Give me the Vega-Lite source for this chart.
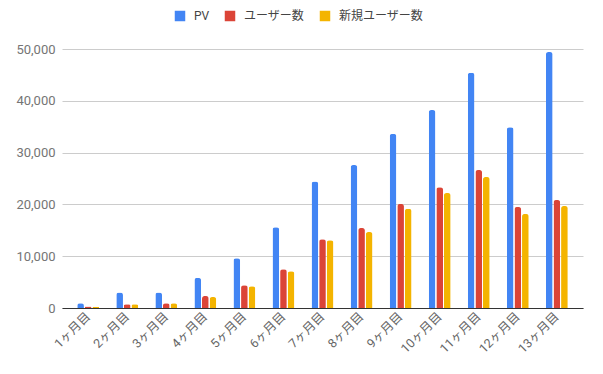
{
  "$schema": "https://vega.github.io/schema/vega-lite/v6.json",
  "width": 521,
  "height": 259,
  "autosize": {"type": "none"},
  "padding": {"left": 62, "top": 49, "right": 20, "bottom": 66},
  "background": "white",
  "config": {
    "font": "Roboto, 'Noto Sans CJK JP', sans-serif",
    "view": {"stroke": null}
  },
  "data": {
    "values": [
      {"month": "1ヶ月目", "series": "PV", "value": 900},
      {"month": "1ヶ月目", "series": "ユーザー数", "value": 300},
      {"month": "1ヶ月目", "series": "新規ユーザー数", "value": 250},
      {"month": "2ヶ月目", "series": "PV", "value": 3000},
      {"month": "2ヶ月目", "series": "ユーザー数", "value": 700},
      {"month": "2ヶ月目", "series": "新規ユーザー数", "value": 700},
      {"month": "3ヶ月目", "series": "PV", "value": 3000},
      {"month": "3ヶ月目", "series": "ユーザー数", "value": 900},
      {"month": "3ヶ月目", "series": "新規ユーザー数", "value": 900},
      {"month": "4ヶ月目", "series": "PV", "value": 5800},
      {"month": "4ヶ月目", "series": "ユーザー数", "value": 2300},
      {"month": "4ヶ月目", "series": "新規ユーザー数", "value": 2100},
      {"month": "5ヶ月目", "series": "PV", "value": 9600},
      {"month": "5ヶ月目", "series": "ユーザー数", "value": 4400},
      {"month": "5ヶ月目", "series": "新規ユーザー数", "value": 4200},
      {"month": "6ヶ月目", "series": "PV", "value": 15600},
      {"month": "6ヶ月目", "series": "ユーザー数", "value": 7500},
      {"month": "6ヶ月目", "series": "新規ユーザー数", "value": 7100},
      {"month": "7ヶ月目", "series": "PV", "value": 24400},
      {"month": "7ヶ月目", "series": "ユーザー数", "value": 13260},
      {"month": "7ヶ月目", "series": "新規ユーザー数", "value": 13070},
      {"month": "8ヶ月目", "series": "PV", "value": 27600},
      {"month": "8ヶ月目", "series": "ユーザー数", "value": 15440},
      {"month": "8ヶ月目", "series": "新規ユーザー数", "value": 14670},
      {"month": "9ヶ月目", "series": "PV", "value": 33600},
      {"month": "9ヶ月目", "series": "ユーザー数", "value": 20080},
      {"month": "9ヶ月目", "series": "新規ユーザー数", "value": 19170},
      {"month": "10ヶ月目", "series": "PV", "value": 38220},
      {"month": "10ヶ月目", "series": "ユーザー数", "value": 23300},
      {"month": "10ヶ月目", "series": "新規ユーザー数", "value": 22200},
      {"month": "11ヶ月目", "series": "PV", "value": 45400},
      {"month": "11ヶ月目", "series": "ユーザー数", "value": 26640},
      {"month": "11ヶ月目", "series": "新規ユーザー数", "value": 25290},
      {"month": "12ヶ月目", "series": "PV", "value": 34880},
      {"month": "12ヶ月目", "series": "ユーザー数", "value": 19500},
      {"month": "12ヶ月目", "series": "新規ユーザー数", "value": 18150},
      {"month": "13ヶ月目", "series": "PV", "value": 49400},
      {"month": "13ヶ月目", "series": "ユーザー数", "value": 20850},
      {"month": "13ヶ月目", "series": "新規ユーザー数", "value": 19690}
    ]
  },
  "mark": {"type": "bar", "cornerRadiusTopLeft": 2.5, "cornerRadiusTopRight": 2.5},
  "encoding": {
    "x": {
      "field": "month",
      "type": "nominal",
      "sort": null,
      "scale": {"paddingInner": 0.44, "paddingOuter": 0.39},
      "axis": {
        "title": null,
        "labelAngle": -45,
        "labelAlign": "right",
        "labelBaseline": "middle",
        "labelFontSize": 12.5,
        "labelColor": "#666666",
        "labelPadding": 6,
        "ticks": false,
        "domainColor": "#333333",
        "grid": false
      }
    },
    "xOffset": {
      "field": "series",
      "type": "nominal",
      "sort": ["PV", "ユーザー数", "新規ユーザー数"],
      "scale": {"paddingInner": 0.12}
    },
    "y": {
      "field": "value",
      "type": "quantitative",
      "scale": {"domain": [0, 50000], "nice": false},
      "axis": {
        "title": null,
        "values": [0, 10000, 20000, 30000, 40000, 50000],
        "format": ",d",
        "labelFontSize": 13,
        "labelColor": "#757575",
        "labelPadding": 7,
        "ticks": false,
        "domain": false,
        "gridColor": "#cccccc",
        "zindex": 0
      }
    },
    "color": {
      "field": "series",
      "type": "nominal",
      "sort": ["PV", "ユーザー数", "新規ユーザー数"],
      "scale": {
        "domain": ["PV", "ユーザー数", "新規ユーザー数"],
        "range": ["#4285F4", "#DB4437", "#F4B400"]
      },
      "legend": {
        "title": null,
        "orient": "none",
        "direction": "horizontal",
        "legendX": 112,
        "legendY": -39,
        "symbolType": "square",
        "symbolSize": 110,
        "symbolStrokeWidth": 0,
        "labelFontSize": 12,
        "labelColor": "#444444",
        "labelOffset": 8,
        "columnPadding": 14
      }
    }
  }
}
